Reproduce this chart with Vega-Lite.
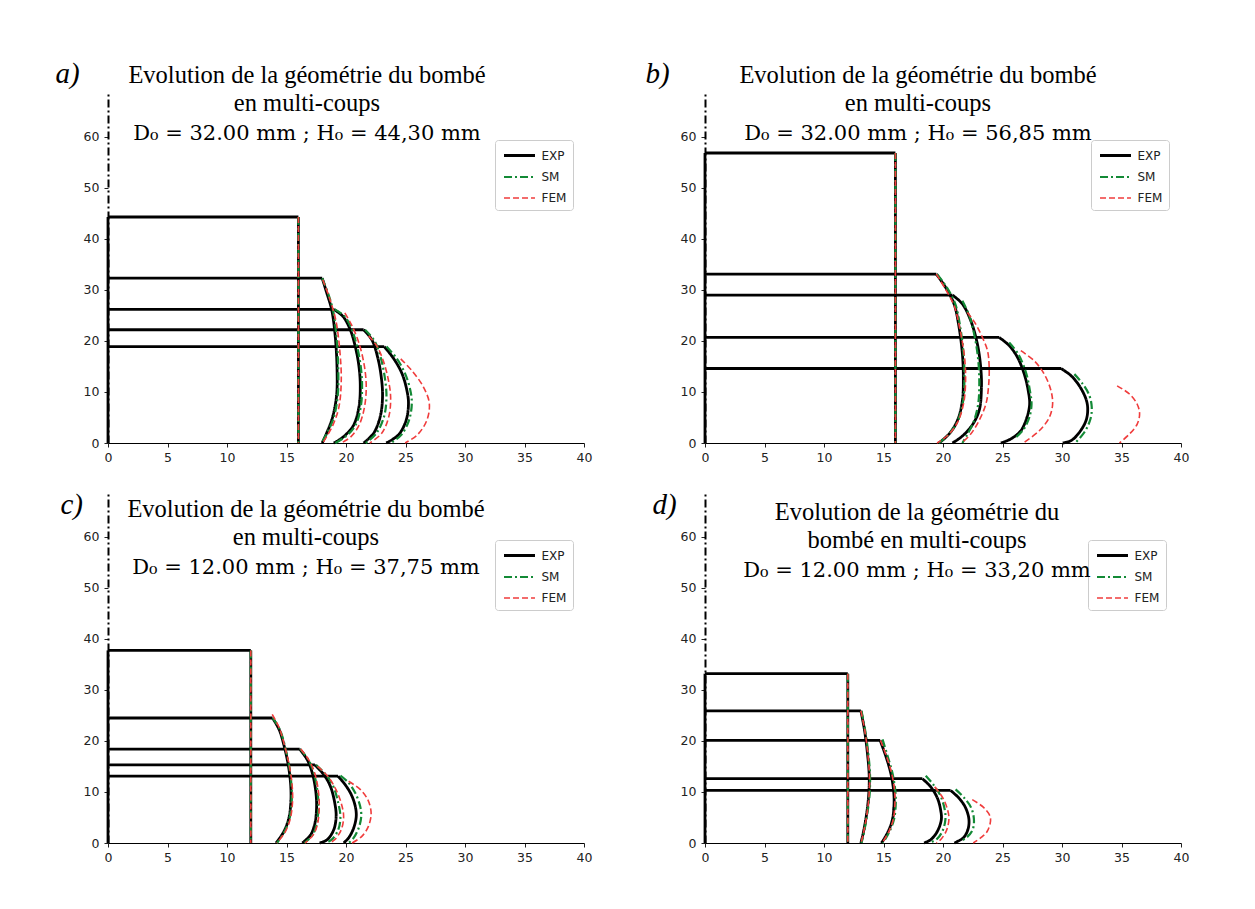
{
"$schema":"https://vega.github.io/schema/vega-lite/v6.json",
"background":"white",
"padding":{"left":55,"top":59,"right":5,"bottom":5},
"datasets":{
"tops":[
{"p":"a","c":1,"R":16,"H":44.3},{"p":"a","c":2,"R":18.0,"H":32.3},{"p":"a","c":3,"R":18.97,"H":26.2},{"p":"a","c":4,"R":21.48,"H":22.2},{"p":"a","c":5,"R":23.21,"H":18.9},
{"p":"b","c":1,"R":16,"H":56.85},{"p":"b","c":2,"R":19.44,"H":33.1},{"p":"b","c":3,"R":20.79,"H":29.0},{"p":"b","c":4,"R":24.72,"H":20.7},{"p":"b","c":5,"R":29.92,"H":14.6},
{"p":"c","c":1,"R":12,"H":37.75},{"p":"c","c":2,"R":13.83,"H":24.5},{"p":"c","c":3,"R":16.11,"H":18.4},{"p":"c","c":4,"R":17.39,"H":15.3},{"p":"c","c":5,"R":19.33,"H":13.1},
{"p":"d","c":1,"R":12,"H":33.2},{"p":"d","c":2,"R":13.1,"H":25.9},{"p":"d","c":3,"R":14.72,"H":20.1},{"p":"d","c":4,"R":18.27,"H":12.6},{"p":"d","c":5,"R":20.64,"H":10.3}
],
"pts":[
{"p":"a","s":"EXP","c":1,"x":16,"y":44.3},{"p":"a","s":"EXP","c":1,"x":16,"y":0},
{"p":"a","s":"EXP","c":2,"x":18.0,"y":32.3},{"p":"a","s":"EXP","c":2,"x":18.4,"y":29.3},{"p":"a","s":"EXP","c":2,"x":18.8,"y":26.1},{"p":"a","s":"EXP","c":2,"x":19.1,"y":20.8},{"p":"a","s":"EXP","c":2,"x":19.25,"y":14.3},{"p":"a","s":"EXP","c":2,"x":19.2,"y":9.1},{"p":"a","s":"EXP","c":2,"x":18.8,"y":4.5},{"p":"a","s":"EXP","c":2,"x":18.0,"y":0},
{"p":"a","s":"EXP","c":3,"x":18.97,"y":26.2},{"p":"a","s":"EXP","c":3,"x":19.75,"y":24.8},{"p":"a","s":"EXP","c":3,"x":20.36,"y":22.2},{"p":"a","s":"EXP","c":3,"x":20.78,"y":18.9},{"p":"a","s":"EXP","c":3,"x":21.09,"y":15.0},{"p":"a","s":"EXP","c":3,"x":21.2,"y":11.05},{"p":"a","s":"EXP","c":3,"x":21.09,"y":7.1},{"p":"a","s":"EXP","c":3,"x":20.64,"y":3.5},{"p":"a","s":"EXP","c":3,"x":19.8,"y":1.24},{"p":"a","s":"EXP","c":3,"x":18.97,"y":0},
{"p":"a","s":"EXP","c":4,"x":21.48,"y":22.2},{"p":"a","s":"EXP","c":4,"x":22.18,"y":20.2},{"p":"a","s":"EXP","c":4,"x":22.65,"y":16.9},{"p":"a","s":"EXP","c":4,"x":22.96,"y":13.0},{"p":"a","s":"EXP","c":4,"x":23.07,"y":9.1},{"p":"a","s":"EXP","c":4,"x":22.88,"y":5.2},{"p":"a","s":"EXP","c":4,"x":22.32,"y":1.9},{"p":"a","s":"EXP","c":4,"x":21.48,"y":0},
{"p":"a","s":"EXP","c":5,"x":23.21,"y":18.9},{"p":"a","s":"EXP","c":5,"x":23.99,"y":16.6},{"p":"a","s":"EXP","c":5,"x":24.69,"y":13.7},{"p":"a","s":"EXP","c":5,"x":25.11,"y":10.4},{"p":"a","s":"EXP","c":5,"x":25.25,"y":7.8},{"p":"a","s":"EXP","c":5,"x":25.06,"y":4.5},{"p":"a","s":"EXP","c":5,"x":24.41,"y":1.6},{"p":"a","s":"EXP","c":5,"x":23.38,"y":0},
{"p":"b","s":"EXP","c":1,"x":16,"y":56.85},{"p":"b","s":"EXP","c":1,"x":16,"y":0},
{"p":"b","s":"EXP","c":2,"x":19.44,"y":33.1},{"p":"b","s":"EXP","c":2,"x":20.22,"y":30.5},{"p":"b","s":"EXP","c":2,"x":20.93,"y":27.25},{"p":"b","s":"EXP","c":2,"x":21.35,"y":22.7},{"p":"b","s":"EXP","c":2,"x":21.63,"y":17.45},{"p":"b","s":"EXP","c":2,"x":21.71,"y":12.9},{"p":"b","s":"EXP","c":2,"x":21.63,"y":8.3},{"p":"b","s":"EXP","c":2,"x":21.21,"y":4.4},{"p":"b","s":"EXP","c":2,"x":20.51,"y":1.76},{"p":"b","s":"EXP","c":2,"x":19.66,"y":0},
{"p":"b","s":"EXP","c":3,"x":20.79,"y":29.0},{"p":"b","s":"EXP","c":3,"x":21.63,"y":27.25},{"p":"b","s":"EXP","c":3,"x":22.33,"y":24.0},{"p":"b","s":"EXP","c":3,"x":22.89,"y":19.4},{"p":"b","s":"EXP","c":3,"x":23.17,"y":14.8},{"p":"b","s":"EXP","c":3,"x":23.23,"y":10.9},{"p":"b","s":"EXP","c":3,"x":23.03,"y":6.3},{"p":"b","s":"EXP","c":3,"x":22.33,"y":3.1},{"p":"b","s":"EXP","c":3,"x":21.49,"y":1.1},{"p":"b","s":"EXP","c":3,"x":20.79,"y":0},
{"p":"b","s":"EXP","c":4,"x":24.72,"y":20.7},{"p":"b","s":"EXP","c":4,"x":25.56,"y":19.1},{"p":"b","s":"EXP","c":4,"x":26.26,"y":16.8},{"p":"b","s":"EXP","c":4,"x":26.83,"y":13.5},{"p":"b","s":"EXP","c":4,"x":27.16,"y":10.3},{"p":"b","s":"EXP","c":4,"x":27.28,"y":7.6},{"p":"b","s":"EXP","c":4,"x":27.05,"y":5.0},{"p":"b","s":"EXP","c":4,"x":26.54,"y":2.4},{"p":"b","s":"EXP","c":4,"x":25.7,"y":0.8},{"p":"b","s":"EXP","c":4,"x":24.86,"y":0},
{"p":"b","s":"EXP","c":5,"x":29.92,"y":14.6},{"p":"b","s":"EXP","c":5,"x":30.76,"y":13.2},{"p":"b","s":"EXP","c":5,"x":31.46,"y":11.2},{"p":"b","s":"EXP","c":5,"x":32.02,"y":8.6},{"p":"b","s":"EXP","c":5,"x":32.16,"y":6.7},{"p":"b","s":"EXP","c":5,"x":32.02,"y":4.4},{"p":"b","s":"EXP","c":5,"x":31.46,"y":2.1},{"p":"b","s":"EXP","c":5,"x":30.76,"y":0.46},{"p":"b","s":"EXP","c":5,"x":30.06,"y":0},
{"p":"c","s":"EXP","c":1,"x":12,"y":37.75},{"p":"c","s":"EXP","c":1,"x":12,"y":0},
{"p":"c","s":"EXP","c":2,"x":13.83,"y":24.5},{"p":"c","s":"EXP","c":2,"x":14.39,"y":22.2},{"p":"c","s":"EXP","c":2,"x":14.81,"y":18.95},{"p":"c","s":"EXP","c":2,"x":15.17,"y":15.0},{"p":"c","s":"EXP","c":2,"x":15.36,"y":11.1},{"p":"c","s":"EXP","c":2,"x":15.36,"y":7.8},{"p":"c","s":"EXP","c":2,"x":15.17,"y":4.6},{"p":"c","s":"EXP","c":2,"x":14.72,"y":2.0},{"p":"c","s":"EXP","c":2,"x":14.11,"y":0},
{"p":"c","s":"EXP","c":3,"x":16.11,"y":18.4},{"p":"c","s":"EXP","c":3,"x":16.75,"y":16.3},{"p":"c","s":"EXP","c":3,"x":17.17,"y":13.7},{"p":"c","s":"EXP","c":3,"x":17.44,"y":10.5},{"p":"c","s":"EXP","c":3,"x":17.53,"y":7.2},{"p":"c","s":"EXP","c":3,"x":17.39,"y":3.9},{"p":"c","s":"EXP","c":3,"x":17.03,"y":1.6},{"p":"c","s":"EXP","c":3,"x":16.33,"y":0},
{"p":"c","s":"EXP","c":4,"x":17.39,"y":15.3},{"p":"c","s":"EXP","c":4,"x":18.14,"y":13.4},{"p":"c","s":"EXP","c":4,"x":18.69,"y":11.1},{"p":"c","s":"EXP","c":4,"x":19.06,"y":7.8},{"p":"c","s":"EXP","c":4,"x":19.17,"y":5.2},{"p":"c","s":"EXP","c":4,"x":18.97,"y":2.6},{"p":"c","s":"EXP","c":4,"x":18.42,"y":0.65},{"p":"c","s":"EXP","c":4,"x":17.78,"y":0},
{"p":"c","s":"EXP","c":5,"x":19.33,"y":13.1},{"p":"c","s":"EXP","c":5,"x":19.94,"y":11.4},{"p":"c","s":"EXP","c":5,"x":20.44,"y":9.5},{"p":"c","s":"EXP","c":5,"x":20.78,"y":7.2},{"p":"c","s":"EXP","c":5,"x":20.86,"y":5.2},{"p":"c","s":"EXP","c":5,"x":20.64,"y":2.9},{"p":"c","s":"EXP","c":5,"x":20.22,"y":1.0},{"p":"c","s":"EXP","c":5,"x":19.81,"y":0},
{"p":"d","s":"EXP","c":1,"x":12,"y":33.2},{"p":"d","s":"EXP","c":1,"x":12,"y":0},
{"p":"d","s":"EXP","c":2,"x":13.1,"y":25.9},{"p":"d","s":"EXP","c":2,"x":13.4,"y":22.2},{"p":"d","s":"EXP","c":2,"x":13.65,"y":17.6},{"p":"d","s":"EXP","c":2,"x":13.8,"y":13.1},{"p":"d","s":"EXP","c":2,"x":13.75,"y":9.2},{"p":"d","s":"EXP","c":2,"x":13.55,"y":5.2},{"p":"d","s":"EXP","c":2,"x":13.3,"y":2.0},{"p":"d","s":"EXP","c":2,"x":13.1,"y":0},
{"p":"d","s":"EXP","c":3,"x":14.72,"y":20.1},{"p":"d","s":"EXP","c":3,"x":15.2,"y":17.0},{"p":"d","s":"EXP","c":3,"x":15.61,"y":13.7},{"p":"d","s":"EXP","c":3,"x":15.84,"y":10.5},{"p":"d","s":"EXP","c":3,"x":15.89,"y":7.8},{"p":"d","s":"EXP","c":3,"x":15.75,"y":4.6},{"p":"d","s":"EXP","c":3,"x":15.34,"y":2.0},{"p":"d","s":"EXP","c":3,"x":14.83,"y":0},
{"p":"d","s":"EXP","c":4,"x":18.27,"y":12.6},{"p":"d","s":"EXP","c":4,"x":18.97,"y":11.0},{"p":"d","s":"EXP","c":4,"x":19.53,"y":8.8},{"p":"d","s":"EXP","c":4,"x":19.8,"y":6.5},{"p":"d","s":"EXP","c":4,"x":19.86,"y":4.6},{"p":"d","s":"EXP","c":4,"x":19.53,"y":2.3},{"p":"d","s":"EXP","c":4,"x":18.97,"y":0.65},{"p":"d","s":"EXP","c":4,"x":18.41,"y":0},
{"p":"d","s":"EXP","c":5,"x":20.64,"y":10.3},{"p":"d","s":"EXP","c":5,"x":21.34,"y":8.8},{"p":"d","s":"EXP","c":5,"x":21.9,"y":6.9},{"p":"d","s":"EXP","c":5,"x":22.18,"y":4.6},{"p":"d","s":"EXP","c":5,"x":22.09,"y":2.6},{"p":"d","s":"EXP","c":5,"x":21.7,"y":1.0},{"p":"d","s":"EXP","c":5,"x":20.95,"y":0},

{"p":"a","s":"SM","c":1,"x":16,"y":44.3},{"p":"a","s":"SM","c":1,"x":16,"y":0},
{"p":"a","s":"SM","c":2,"x":18.0,"y":32.3},{"p":"a","s":"SM","c":2,"x":18.5,"y":29.3},{"p":"a","s":"SM","c":2,"x":18.9,"y":26.1},{"p":"a","s":"SM","c":2,"x":19.2,"y":20.8},{"p":"a","s":"SM","c":2,"x":19.35,"y":14.3},{"p":"a","s":"SM","c":2,"x":19.3,"y":9.1},{"p":"a","s":"SM","c":2,"x":18.9,"y":4.5},{"p":"a","s":"SM","c":2,"x":17.95,"y":0},
{"p":"a","s":"SM","c":3,"x":19.05,"y":26.2},{"p":"a","s":"SM","c":3,"x":19.9,"y":24.8},{"p":"a","s":"SM","c":3,"x":20.5,"y":22.2},{"p":"a","s":"SM","c":3,"x":20.93,"y":18.9},{"p":"a","s":"SM","c":3,"x":21.24,"y":15.0},{"p":"a","s":"SM","c":3,"x":21.35,"y":11.05},{"p":"a","s":"SM","c":3,"x":21.24,"y":7.1},{"p":"a","s":"SM","c":3,"x":20.8,"y":3.5},{"p":"a","s":"SM","c":3,"x":19.95,"y":1.24},{"p":"a","s":"SM","c":3,"x":19.1,"y":0},
{"p":"a","s":"SM","c":4,"x":21.6,"y":22.2},{"p":"a","s":"SM","c":4,"x":22.4,"y":20.0},{"p":"a","s":"SM","c":4,"x":22.9,"y":16.9},{"p":"a","s":"SM","c":4,"x":23.25,"y":13.0},{"p":"a","s":"SM","c":4,"x":23.4,"y":9.1},{"p":"a","s":"SM","c":4,"x":23.2,"y":5.2},{"p":"a","s":"SM","c":4,"x":22.55,"y":1.9},{"p":"a","s":"SM","c":4,"x":21.65,"y":0},
{"p":"a","s":"SM","c":5,"x":23.4,"y":18.9},{"p":"a","s":"SM","c":5,"x":24.25,"y":16.6},{"p":"a","s":"SM","c":5,"x":24.95,"y":13.7},{"p":"a","s":"SM","c":5,"x":25.4,"y":10.4},{"p":"a","s":"SM","c":5,"x":25.53,"y":7.8},{"p":"a","s":"SM","c":5,"x":25.3,"y":4.5},{"p":"a","s":"SM","c":5,"x":24.65,"y":1.6},{"p":"a","s":"SM","c":5,"x":23.77,"y":0},
{"p":"b","s":"SM","c":1,"x":16,"y":56.85},{"p":"b","s":"SM","c":1,"x":16,"y":0},
{"p":"b","s":"SM","c":2,"x":19.5,"y":33.1},{"p":"b","s":"SM","c":2,"x":20.32,"y":30.5},{"p":"b","s":"SM","c":2,"x":21.03,"y":27.25},{"p":"b","s":"SM","c":2,"x":21.45,"y":22.7},{"p":"b","s":"SM","c":2,"x":21.73,"y":17.45},{"p":"b","s":"SM","c":2,"x":21.8,"y":12.9},{"p":"b","s":"SM","c":2,"x":21.7,"y":8.3},{"p":"b","s":"SM","c":2,"x":21.25,"y":4.4},{"p":"b","s":"SM","c":2,"x":20.5,"y":1.76},{"p":"b","s":"SM","c":2,"x":19.65,"y":0},
{"p":"b","s":"SM","c":3,"x":21.63,"y":27.9},{"p":"b","s":"SM","c":3,"x":22.2,"y":25.0},{"p":"b","s":"SM","c":3,"x":22.65,"y":21.0},{"p":"b","s":"SM","c":3,"x":22.95,"y":16.5},{"p":"b","s":"SM","c":3,"x":23.05,"y":12.0},{"p":"b","s":"SM","c":3,"x":22.95,"y":7.5},{"p":"b","s":"SM","c":3,"x":22.55,"y":4.0},{"p":"b","s":"SM","c":3,"x":22.0,"y":1.5},{"p":"b","s":"SM","c":3,"x":21.63,"y":0},
{"p":"b","s":"SM","c":4,"x":25.56,"y":19.7},{"p":"b","s":"SM","c":4,"x":26.3,"y":17.5},{"p":"b","s":"SM","c":4,"x":26.95,"y":14.0},{"p":"b","s":"SM","c":4,"x":27.3,"y":10.3},{"p":"b","s":"SM","c":4,"x":27.44,"y":7.6},{"p":"b","s":"SM","c":4,"x":27.25,"y":5.0},{"p":"b","s":"SM","c":4,"x":26.75,"y":2.6},{"p":"b","s":"SM","c":4,"x":26.12,"y":1.1},
{"p":"b","s":"SM","c":5,"x":31.04,"y":13.5},{"p":"b","s":"SM","c":5,"x":31.74,"y":11.6},{"p":"b","s":"SM","c":5,"x":32.3,"y":9.3},{"p":"b","s":"SM","c":5,"x":32.5,"y":7.0},{"p":"b","s":"SM","c":5,"x":32.39,"y":4.7},{"p":"b","s":"SM","c":5,"x":31.88,"y":2.1},{"p":"b","s":"SM","c":5,"x":31.1,"y":0},
{"p":"c","s":"SM","c":1,"x":12,"y":37.75},{"p":"c","s":"SM","c":1,"x":12,"y":0},
{"p":"c","s":"SM","c":2,"x":13.85,"y":24.5},{"p":"c","s":"SM","c":2,"x":14.45,"y":22.2},{"p":"c","s":"SM","c":2,"x":14.87,"y":18.95},{"p":"c","s":"SM","c":2,"x":15.23,"y":15.0},{"p":"c","s":"SM","c":2,"x":15.42,"y":11.1},{"p":"c","s":"SM","c":2,"x":15.42,"y":7.8},{"p":"c","s":"SM","c":2,"x":15.23,"y":4.6},{"p":"c","s":"SM","c":2,"x":14.78,"y":2.0},{"p":"c","s":"SM","c":2,"x":14.2,"y":0},
{"p":"c","s":"SM","c":3,"x":16.15,"y":18.4},{"p":"c","s":"SM","c":3,"x":16.85,"y":16.3},{"p":"c","s":"SM","c":3,"x":17.3,"y":13.7},{"p":"c","s":"SM","c":3,"x":17.58,"y":10.5},{"p":"c","s":"SM","c":3,"x":17.68,"y":7.2},{"p":"c","s":"SM","c":3,"x":17.55,"y":3.9},{"p":"c","s":"SM","c":3,"x":17.2,"y":1.6},{"p":"c","s":"SM","c":3,"x":16.5,"y":0},
{"p":"c","s":"SM","c":4,"x":17.5,"y":15.3},{"p":"c","s":"SM","c":4,"x":18.35,"y":13.3},{"p":"c","s":"SM","c":4,"x":18.95,"y":11.0},{"p":"c","s":"SM","c":4,"x":19.35,"y":7.8},{"p":"c","s":"SM","c":4,"x":19.53,"y":5.2},{"p":"c","s":"SM","c":4,"x":19.35,"y":2.6},{"p":"c","s":"SM","c":4,"x":18.8,"y":0.65},{"p":"c","s":"SM","c":4,"x":18.28,"y":0},
{"p":"c","s":"SM","c":5,"x":19.53,"y":13.2},{"p":"c","s":"SM","c":5,"x":20.22,"y":11.8},{"p":"c","s":"SM","c":5,"x":20.78,"y":9.8},{"p":"c","s":"SM","c":5,"x":21.19,"y":7.2},{"p":"c","s":"SM","c":5,"x":21.28,"y":5.2},{"p":"c","s":"SM","c":5,"x":21.06,"y":2.9},{"p":"c","s":"SM","c":5,"x":20.64,"y":1.0},{"p":"c","s":"SM","c":5,"x":20.22,"y":0},
{"p":"d","s":"SM","c":1,"x":12,"y":33.2},{"p":"d","s":"SM","c":1,"x":12,"y":0},
{"p":"d","s":"SM","c":2,"x":13.15,"y":25.9},{"p":"d","s":"SM","c":2,"x":13.45,"y":22.2},{"p":"d","s":"SM","c":2,"x":13.72,"y":17.6},{"p":"d","s":"SM","c":2,"x":13.87,"y":13.1},{"p":"d","s":"SM","c":2,"x":13.82,"y":9.2},{"p":"d","s":"SM","c":2,"x":13.6,"y":5.2},{"p":"d","s":"SM","c":2,"x":13.35,"y":2.0},{"p":"d","s":"SM","c":2,"x":13.15,"y":0},
{"p":"d","s":"SM","c":3,"x":14.92,"y":20.3},{"p":"d","s":"SM","c":3,"x":15.35,"y":17.0},{"p":"d","s":"SM","c":3,"x":15.75,"y":13.7},{"p":"d","s":"SM","c":3,"x":15.98,"y":10.5},{"p":"d","s":"SM","c":3,"x":16.03,"y":7.8},{"p":"d","s":"SM","c":3,"x":15.88,"y":4.6},{"p":"d","s":"SM","c":3,"x":15.45,"y":2.0},{"p":"d","s":"SM","c":3,"x":14.95,"y":0},
{"p":"d","s":"SM","c":4,"x":18.55,"y":13.2},{"p":"d","s":"SM","c":4,"x":19.2,"y":11.4},{"p":"d","s":"SM","c":4,"x":19.8,"y":9.2},{"p":"d","s":"SM","c":4,"x":20.15,"y":6.5},{"p":"d","s":"SM","c":4,"x":20.2,"y":4.6},{"p":"d","s":"SM","c":4,"x":19.95,"y":2.3},{"p":"d","s":"SM","c":4,"x":19.5,"y":0.8},{"p":"d","s":"SM","c":4,"x":19.0,"y":0.2},
{"p":"d","s":"SM","c":5,"x":21.06,"y":10.5},{"p":"d","s":"SM","c":5,"x":21.8,"y":8.8},{"p":"d","s":"SM","c":5,"x":22.37,"y":6.9},{"p":"d","s":"SM","c":5,"x":22.6,"y":4.6},{"p":"d","s":"SM","c":5,"x":22.49,"y":2.6},{"p":"d","s":"SM","c":5,"x":22.04,"y":1.2},{"p":"d","s":"SM","c":5,"x":21.48,"y":0.33},

{"p":"a","s":"FEM","c":1,"x":16,"y":44.3},{"p":"a","s":"FEM","c":1,"x":16,"y":0},
{"p":"a","s":"FEM","c":2,"x":18.05,"y":32.0},{"p":"a","s":"FEM","c":2,"x":18.6,"y":28.5},{"p":"a","s":"FEM","c":2,"x":19.15,"y":24.0},{"p":"a","s":"FEM","c":2,"x":19.5,"y":17.6},{"p":"a","s":"FEM","c":2,"x":19.6,"y":12.0},{"p":"a","s":"FEM","c":2,"x":19.4,"y":7.0},{"p":"a","s":"FEM","c":2,"x":18.9,"y":3.5},{"p":"a","s":"FEM","c":2,"x":18.05,"y":0},
{"p":"a","s":"FEM","c":3,"x":19.9,"y":25.5},{"p":"a","s":"FEM","c":3,"x":20.5,"y":23.0},{"p":"a","s":"FEM","c":3,"x":21.1,"y":19.5},{"p":"a","s":"FEM","c":3,"x":21.55,"y":15.0},{"p":"a","s":"FEM","c":3,"x":21.7,"y":11.0},{"p":"a","s":"FEM","c":3,"x":21.55,"y":7.0},{"p":"a","s":"FEM","c":3,"x":21.1,"y":3.5},{"p":"a","s":"FEM","c":3,"x":20.4,"y":1.2},{"p":"a","s":"FEM","c":3,"x":19.6,"y":0},
{"p":"a","s":"FEM","c":4,"x":21.9,"y":21.0},{"p":"a","s":"FEM","c":4,"x":22.6,"y":19.0},{"p":"a","s":"FEM","c":4,"x":23.15,"y":16.0},{"p":"a","s":"FEM","c":4,"x":23.55,"y":12.5},{"p":"a","s":"FEM","c":4,"x":23.75,"y":9.0},{"p":"a","s":"FEM","c":4,"x":23.6,"y":5.2},{"p":"a","s":"FEM","c":4,"x":23.0,"y":1.9},{"p":"a","s":"FEM","c":4,"x":22.0,"y":0},
{"p":"a","s":"FEM","c":5,"x":24.6,"y":16.5},{"p":"a","s":"FEM","c":5,"x":25.6,"y":14.0},{"p":"a","s":"FEM","c":5,"x":26.5,"y":11.0},{"p":"a","s":"FEM","c":5,"x":27.0,"y":7.8},{"p":"a","s":"FEM","c":5,"x":26.8,"y":4.5},{"p":"a","s":"FEM","c":5,"x":26.0,"y":1.6},{"p":"a","s":"FEM","c":5,"x":24.97,"y":0},
{"p":"b","s":"FEM","c":1,"x":16,"y":56.85},{"p":"b","s":"FEM","c":1,"x":16,"y":0},
{"p":"b","s":"FEM","c":2,"x":19.44,"y":33.1},{"p":"b","s":"FEM","c":2,"x":20.2,"y":30.2},{"p":"b","s":"FEM","c":2,"x":20.95,"y":26.8},{"p":"b","s":"FEM","c":2,"x":21.45,"y":22.0},{"p":"b","s":"FEM","c":2,"x":21.8,"y":17.0},{"p":"b","s":"FEM","c":2,"x":21.9,"y":12.5},{"p":"b","s":"FEM","c":2,"x":21.75,"y":8.0},{"p":"b","s":"FEM","c":2,"x":21.25,"y":4.2},{"p":"b","s":"FEM","c":2,"x":20.45,"y":1.6},{"p":"b","s":"FEM","c":2,"x":19.5,"y":0},
{"p":"b","s":"FEM","c":3,"x":22.05,"y":25.6},{"p":"b","s":"FEM","c":3,"x":22.75,"y":23.3},{"p":"b","s":"FEM","c":3,"x":23.31,"y":20.7},{"p":"b","s":"FEM","c":3,"x":23.74,"y":18.1},{"p":"b","s":"FEM","c":3,"x":23.88,"y":14.8},{"p":"b","s":"FEM","c":3,"x":23.82,"y":10.9},{"p":"b","s":"FEM","c":3,"x":23.6,"y":7.6},{"p":"b","s":"FEM","c":3,"x":23.03,"y":4.4},{"p":"b","s":"FEM","c":3,"x":22.33,"y":1.76},{"p":"b","s":"FEM","c":3,"x":21.63,"y":0.13},
{"p":"b","s":"FEM","c":4,"x":26.54,"y":18.1},{"p":"b","s":"FEM","c":4,"x":27.67,"y":16.1},{"p":"b","s":"FEM","c":4,"x":28.51,"y":13.5},{"p":"b","s":"FEM","c":4,"x":29.07,"y":10.3},{"p":"b","s":"FEM","c":4,"x":29.21,"y":7.6},{"p":"b","s":"FEM","c":4,"x":28.93,"y":5.0},{"p":"b","s":"FEM","c":4,"x":28.09,"y":2.4},{"p":"b","s":"FEM","c":4,"x":26.83,"y":0.13},
{"p":"b","s":"FEM","c":5,"x":34.63,"y":11.2},{"p":"b","s":"FEM","c":5,"x":35.67,"y":9.6},{"p":"b","s":"FEM","c":5,"x":36.32,"y":7.6},{"p":"b","s":"FEM","c":5,"x":36.52,"y":5.7},{"p":"b","s":"FEM","c":5,"x":36.32,"y":3.7},{"p":"b","s":"FEM","c":5,"x":35.67,"y":1.76},{"p":"b","s":"FEM","c":5,"x":34.83,"y":0},
{"p":"c","s":"FEM","c":1,"x":12,"y":37.75},{"p":"c","s":"FEM","c":1,"x":12,"y":0},
{"p":"c","s":"FEM","c":2,"x":13.8,"y":25.2},{"p":"c","s":"FEM","c":2,"x":14.4,"y":22.5},{"p":"c","s":"FEM","c":2,"x":14.85,"y":19.0},{"p":"c","s":"FEM","c":2,"x":15.25,"y":15.0},{"p":"c","s":"FEM","c":2,"x":15.48,"y":11.1},{"p":"c","s":"FEM","c":2,"x":15.5,"y":7.8},{"p":"c","s":"FEM","c":2,"x":15.3,"y":4.6},{"p":"c","s":"FEM","c":2,"x":14.85,"y":2.0},{"p":"c","s":"FEM","c":2,"x":14.17,"y":0},
{"p":"c","s":"FEM","c":3,"x":16.2,"y":18.4},{"p":"c","s":"FEM","c":3,"x":16.9,"y":16.2},{"p":"c","s":"FEM","c":3,"x":17.38,"y":13.6},{"p":"c","s":"FEM","c":3,"x":17.66,"y":10.5},{"p":"c","s":"FEM","c":3,"x":17.75,"y":7.2},{"p":"c","s":"FEM","c":3,"x":17.62,"y":3.9},{"p":"c","s":"FEM","c":3,"x":17.25,"y":1.6},{"p":"c","s":"FEM","c":3,"x":16.56,"y":0},
{"p":"c","s":"FEM","c":4,"x":17.6,"y":15.0},{"p":"c","s":"FEM","c":4,"x":18.5,"y":13.0},{"p":"c","s":"FEM","c":4,"x":19.15,"y":10.5},{"p":"c","s":"FEM","c":4,"x":19.6,"y":7.8},{"p":"c","s":"FEM","c":4,"x":19.8,"y":5.2},{"p":"c","s":"FEM","c":4,"x":19.6,"y":2.6},{"p":"c","s":"FEM","c":4,"x":19.05,"y":0.65},{"p":"c","s":"FEM","c":4,"x":18.6,"y":0},
{"p":"c","s":"FEM","c":5,"x":20.22,"y":12.1},{"p":"c","s":"FEM","c":5,"x":21.19,"y":10.5},{"p":"c","s":"FEM","c":5,"x":21.83,"y":8.5},{"p":"c","s":"FEM","c":5,"x":22.11,"y":5.9},{"p":"c","s":"FEM","c":5,"x":21.89,"y":3.3},{"p":"c","s":"FEM","c":5,"x":21.33,"y":1.3},{"p":"c","s":"FEM","c":5,"x":20.5,"y":0},
{"p":"d","s":"FEM","c":1,"x":12,"y":33.2},{"p":"d","s":"FEM","c":1,"x":12,"y":0},
{"p":"d","s":"FEM","c":2,"x":13.1,"y":25.9},{"p":"d","s":"FEM","c":2,"x":13.42,"y":22.2},{"p":"d","s":"FEM","c":2,"x":13.68,"y":17.6},{"p":"d","s":"FEM","c":2,"x":13.82,"y":13.1},{"p":"d","s":"FEM","c":2,"x":13.78,"y":9.2},{"p":"d","s":"FEM","c":2,"x":13.58,"y":5.2},{"p":"d","s":"FEM","c":2,"x":13.32,"y":2.0},{"p":"d","s":"FEM","c":2,"x":13.12,"y":0},
{"p":"d","s":"FEM","c":3,"x":14.75,"y":20.1},{"p":"d","s":"FEM","c":3,"x":15.25,"y":17.0},{"p":"d","s":"FEM","c":3,"x":15.68,"y":13.7},{"p":"d","s":"FEM","c":3,"x":15.92,"y":10.5},{"p":"d","s":"FEM","c":3,"x":15.96,"y":7.8},{"p":"d","s":"FEM","c":3,"x":15.82,"y":4.6},{"p":"d","s":"FEM","c":3,"x":15.4,"y":2.0},{"p":"d","s":"FEM","c":3,"x":14.88,"y":0},
{"p":"d","s":"FEM","c":4,"x":19.3,"y":11.0},{"p":"d","s":"FEM","c":4,"x":19.95,"y":9.0},{"p":"d","s":"FEM","c":4,"x":20.35,"y":6.8},{"p":"d","s":"FEM","c":4,"x":20.5,"y":4.8},{"p":"d","s":"FEM","c":4,"x":20.3,"y":2.5},{"p":"d","s":"FEM","c":4,"x":19.85,"y":0.8},{"p":"d","s":"FEM","c":4,"x":19.45,"y":0},
{"p":"d","s":"FEM","c":5,"x":22.46,"y":8.5},{"p":"d","s":"FEM","c":5,"x":23.44,"y":6.9},{"p":"d","s":"FEM","c":5,"x":23.99,"y":4.9},{"p":"d","s":"FEM","c":5,"x":23.72,"y":2.3},{"p":"d","s":"FEM","c":5,"x":23.16,"y":1.0},{"p":"d","s":"FEM","c":5,"x":22.54,"y":0}
]
},
"columns":2,
"spacing":{"row":48,"column":121},
"bounds":"flush",
"resolve":{"scale":{"color":"independent","strokeDash":"independent","strokeWidth":"independent"}},
"concat":[
{"width":476,"height":352,
 "title":{"text":["Evolution de la géométrie du bombé","en multi-coups"],"subtitle":"D₀ = 32.00 mm ; H₀ = 44,30 mm","dx":-39,"offset":-86},
 "resolve":{"axis":{"x":"independent","y":"independent"}},
 "layer":[
  {"data":{"name":"tops"},"transform":[{"filter":"datum.p=='a' && datum.c==1"}],"mark":{"type":"rule","color":"#000","strokeWidth":2.8},"encoding":{"x":{"datum":0,"type":"quantitative","axis":null},"y":{"field":"H","type":"quantitative","axis":null},"y2":{"datum":0}}},
  {"data":{"name":"tops"},"transform":[{"filter":"datum.p=='a'"}],"mark":{"type":"rule","color":"#000","strokeWidth":2.8},"encoding":{"x":{"field":"R","type":"quantitative","axis":null},"x2":{"datum":0},"y":{"field":"H","type":"quantitative","axis":null}}},
  {"data":{"name":"pts"},"transform":[{"filter":"datum.p=='a'"}],"mark":{"type":"line","interpolate":"catmull-rom"},
   "encoding":{
    "x":{"field":"x","type":"quantitative","scale":{"domain":[0,40],"nice":false,"zero":false},"axis":{"title":null,"values":[0,5,10,15,20,25,30,35,40],"labelFontSize":12.5}},
    "y":{"field":"y","type":"quantitative","scale":{"domain":[0,69],"nice":false,"zero":false},"axis":{"title":"a)","titleX":-53,"titleY":-9,"values":[0,10,20,30,40,50,60],"labelFontSize":12.5}},
    "detail":{"field":"c","type":"nominal"},
    "order":{"field":"y","type":"quantitative","sort":"descending"},
    "color":{"field":"s","type":"nominal","scale":{"domain":["EXP","SM","FEM"],"range":["#000000","#138a36","#f03c3c"]},"legend":{"legendX":387,"legendY":49}},
    "strokeDash":{"field":"s","type":"nominal","scale":{"domain":["EXP","SM","FEM"],"range":[[1,0],[8,3,2,3],[6,3]]},"legend":{"legendX":387,"legendY":49}},
    "strokeWidth":{"field":"s","type":"nominal","scale":{"domain":["EXP","SM","FEM"],"range":[2.8,1.6,1.6]},"legend":{"legendX":387,"legendY":49}}
   }}
 ]},
{"width":476,"height":352,
 "title":{"text":["Evolution de la géométrie du bombé","en multi-coups"],"subtitle":"D₀ = 32.00 mm ; H₀ = 56,85 mm","dx":-25,"offset":-86},
 "resolve":{"axis":{"x":"independent","y":"independent"}},
 "layer":[
  {"data":{"name":"tops"},"transform":[{"filter":"datum.p=='b' && datum.c==1"}],"mark":{"type":"rule","color":"#000","strokeWidth":2.8},"encoding":{"x":{"datum":0,"type":"quantitative","axis":null},"y":{"field":"H","type":"quantitative","axis":null},"y2":{"datum":0}}},
  {"data":{"name":"tops"},"transform":[{"filter":"datum.p=='b'"}],"mark":{"type":"rule","color":"#000","strokeWidth":2.8},"encoding":{"x":{"field":"R","type":"quantitative","axis":null},"x2":{"datum":0},"y":{"field":"H","type":"quantitative","axis":null}}},
  {"data":{"name":"pts"},"transform":[{"filter":"datum.p=='b'"}],"mark":{"type":"line","interpolate":"catmull-rom"},
   "encoding":{
    "x":{"field":"x","type":"quantitative","scale":{"domain":[0,40],"nice":false,"zero":false},"axis":{"title":null,"values":[0,5,10,15,20,25,30,35,40],"labelFontSize":12.5}},
    "y":{"field":"y","type":"quantitative","scale":{"domain":[0,69],"nice":false,"zero":false},"axis":{"title":"b)","titleX":-60,"titleY":-9,"values":[0,10,20,30,40,50,60],"labelFontSize":12.5}},
    "detail":{"field":"c","type":"nominal"},
    "order":{"field":"y","type":"quantitative","sort":"descending"},
    "color":{"field":"s","type":"nominal","scale":{"domain":["EXP","SM","FEM"],"range":["#000000","#138a36","#f03c3c"]},"legend":{"legendX":386,"legendY":49}},
    "strokeDash":{"field":"s","type":"nominal","scale":{"domain":["EXP","SM","FEM"],"range":[[1,0],[8,3,2,3],[6,3]]},"legend":{"legendX":386,"legendY":49}},
    "strokeWidth":{"field":"s","type":"nominal","scale":{"domain":["EXP","SM","FEM"],"range":[2.8,1.6,1.6]},"legend":{"legendX":386,"legendY":49}}
   }}
 ]},
{"width":476,"height":352,
 "title":{"text":["Evolution de la géométrie du bombé","en multi-coups"],"subtitle":"D₀ = 12.00 mm ; H₀ = 37,75 mm","dx":-40,"offset":-89},
 "resolve":{"axis":{"x":"independent","y":"independent"}},
 "layer":[
  {"data":{"name":"tops"},"transform":[{"filter":"datum.p=='c' && datum.c==1"}],"mark":{"type":"rule","color":"#000","strokeWidth":2.8},"encoding":{"x":{"datum":0,"type":"quantitative","axis":null},"y":{"field":"H","type":"quantitative","axis":null},"y2":{"datum":0}}},
  {"data":{"name":"tops"},"transform":[{"filter":"datum.p=='c'"}],"mark":{"type":"rule","color":"#000","strokeWidth":2.8},"encoding":{"x":{"field":"R","type":"quantitative","axis":null},"x2":{"datum":0},"y":{"field":"H","type":"quantitative","axis":null}}},
  {"data":{"name":"pts"},"transform":[{"filter":"datum.p=='c'"}],"mark":{"type":"line","interpolate":"catmull-rom"},
   "encoding":{
    "x":{"field":"x","type":"quantitative","scale":{"domain":[0,40],"nice":false,"zero":false},"axis":{"title":null,"values":[0,5,10,15,20,25,30,35,40],"labelFontSize":12.5}},
    "y":{"field":"y","type":"quantitative","scale":{"domain":[0,69],"nice":false,"zero":false},"axis":{"title":"c)","titleX":-48,"titleY":22,"values":[0,10,20,30,40,50,60],"labelFontSize":12.5}},
    "detail":{"field":"c","type":"nominal"},
    "order":{"field":"y","type":"quantitative","sort":"descending"},
    "color":{"field":"s","type":"nominal","scale":{"domain":["EXP","SM","FEM"],"range":["#000000","#138a36","#f03c3c"]},"legend":{"legendX":387,"legendY":49}},
    "strokeDash":{"field":"s","type":"nominal","scale":{"domain":["EXP","SM","FEM"],"range":[[1,0],[8,3,2,3],[6,3]]},"legend":{"legendX":387,"legendY":49}},
    "strokeWidth":{"field":"s","type":"nominal","scale":{"domain":["EXP","SM","FEM"],"range":[2.8,1.6,1.6]},"legend":{"legendX":387,"legendY":49}}
   }}
 ]},
{"width":476,"height":352,
 "title":{"text":["Evolution de la géométrie du","bombé en multi-coups"],"subtitle":"D₀ = 12.00 mm ; H₀ = 33,20 mm","dx":-26,"offset":-92},
 "resolve":{"axis":{"x":"independent","y":"independent"}},
 "layer":[
  {"data":{"name":"tops"},"transform":[{"filter":"datum.p=='d' && datum.c==1"}],"mark":{"type":"rule","color":"#000","strokeWidth":2.8},"encoding":{"x":{"datum":0,"type":"quantitative","axis":null},"y":{"field":"H","type":"quantitative","axis":null},"y2":{"datum":0}}},
  {"data":{"name":"tops"},"transform":[{"filter":"datum.p=='d'"}],"mark":{"type":"rule","color":"#000","strokeWidth":2.8},"encoding":{"x":{"field":"R","type":"quantitative","axis":null},"x2":{"datum":0},"y":{"field":"H","type":"quantitative","axis":null}}},
  {"data":{"name":"pts"},"transform":[{"filter":"datum.p=='d'"}],"mark":{"type":"line","interpolate":"catmull-rom"},
   "encoding":{
    "x":{"field":"x","type":"quantitative","scale":{"domain":[0,40],"nice":false,"zero":false},"axis":{"title":null,"values":[0,5,10,15,20,25,30,35,40],"labelFontSize":12.5}},
    "y":{"field":"y","type":"quantitative","scale":{"domain":[0,69],"nice":false,"zero":false},"axis":{"title":"d)","titleX":-53,"titleY":22,"values":[0,10,20,30,40,50,60],"labelFontSize":12.5}},
    "detail":{"field":"c","type":"nominal"},
    "order":{"field":"y","type":"quantitative","sort":"descending"},
    "color":{"field":"s","type":"nominal","scale":{"domain":["EXP","SM","FEM"],"range":["#000000","#138a36","#f03c3c"]},"legend":{"legendX":383,"legendY":49}},
    "strokeDash":{"field":"s","type":"nominal","scale":{"domain":["EXP","SM","FEM"],"range":[[1,0],[8,3,2,3],[6,3]]},"legend":{"legendX":383,"legendY":49}},
    "strokeWidth":{"field":"s","type":"nominal","scale":{"domain":["EXP","SM","FEM"],"range":[2.8,1.6,1.6]},"legend":{"legendX":383,"legendY":49}}
   }}
 ]}
],
"config":{
 "view":{"stroke":null},
 "axis":{"grid":false,"labelFont":"DejaVu Sans","labelFontSize":12.5,"labelColor":"#222","tickColor":"#222","tickSize":4,"tickWidth":1,"domainColor":"#000","labelFlush":false,"labelOverlap":false},
 "axisX":{"domainWidth":1.2,"labelPadding":4},
 "axisY":{"domainDash":[8,3,2,3],"domainWidth":2,"labelPadding":5,"titleAngle":0,"titleAlign":"left","titleBaseline":"alphabetic","titleFont":"Liberation Serif","titleFontStyle":"italic","titleFontSize":29,"titleFontWeight":"normal","titleColor":"#000"},
 "legend":{"orient":"none","title":null,"symbolType":"M-2,0H2","symbolSize":240,"symbolOffset":9,"labelOffset":12.5,"padding":6,"rowPadding":6,"fillColor":"#ffffff","strokeColor":"#cccccc","cornerRadius":3,"labelFont":"DejaVu Sans","labelFontSize":12,"labelColor":"#222"},
 "title":{"font":"Liberation Serif","fontSize":24.5,"fontWeight":"normal","color":"#000","lineHeight":28,"frame":"group","anchor":"middle","subtitleFont":"DejaVu Serif","subtitleFontSize":21,"subtitleColor":"#000","subtitlePadding":7}
}
}
